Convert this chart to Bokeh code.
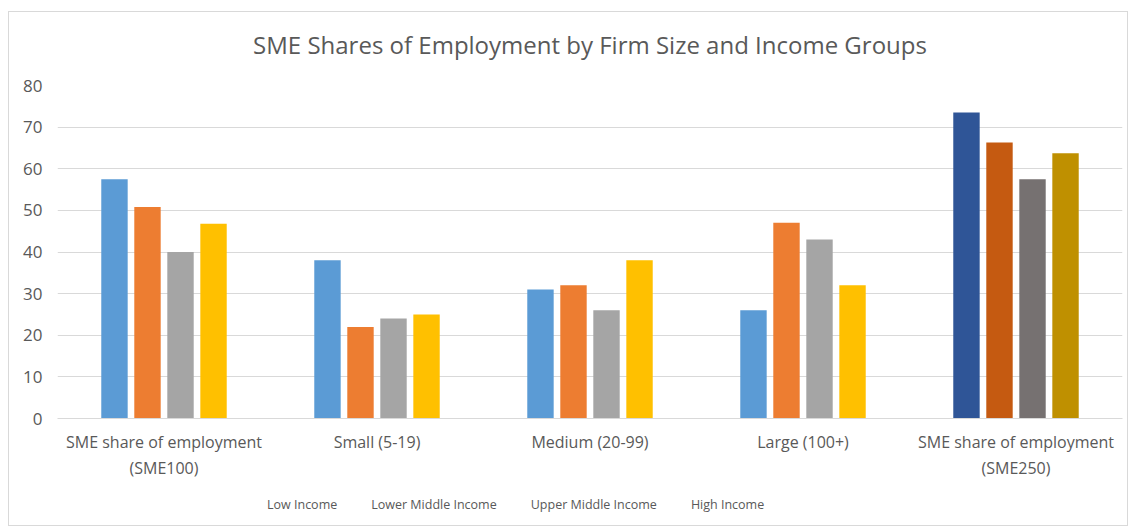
from bokeh.plotting import figure
from bokeh.layouts import column
from bokeh.models import (ColumnDataSource, FixedTicker, Legend, LegendItem, Range1d, Label,
                          CDSView, IndexFilter)
from bokeh.transform import dodge
from bokeh.embed import file_html
from bokeh.resources import INLINE

title_text = "SME Shares of Employment by Firm Size and Income Groups"
categories = ["SME share of employment\n(SME100)", "Small (5-19)", "Medium (20-99)",
              "Large (100+)", "SME share of employment\n(SME250)"]
series = ["Low Income", "Lower Middle Income", "Upper Middle Income", "High Income"]
low_income = [57.5, 38, 31, 26, 73.5]
lower_middle = [50.8, 22, 32, 47, 66.3]
upper_middle = [40, 24, 26, 43, 57.5]
high_income = [46.8, 25, 38, 32, 63.7]
y_ticks = [0, 10, 20, 30, 40, 50, 60, 70, 80]

colors = ["#5B9BD5", "#ED7D31", "#A5A5A5", "#FFC000"]
dark_colors = ["#2F5597", "#C55A11", "#767171", "#BF9000"]

FONT = "Open Sans"
TXT = "#595959"

xs = [i + 0.5 for i in range(len(categories))]
main = ColumnDataSource(dict(x=xs[:4], low=low_income[:4], lm=lower_middle[:4],
                             um=upper_middle[:4], hi=high_income[:4]))
last = ColumnDataSource(dict(x=xs[4:], low=low_income[4:], lm=lower_middle[4:],
                             um=upper_middle[4:], hi=high_income[4:]))

# title strip
head = figure(width=1118, height=50, output_backend="svg", toolbar_location=None,
              x_axis_type=None, y_axis_type=None, x_range=Range1d(0, 1), y_range=Range1d(0, 1),
              min_border=0)
head.outline_line_color = None
head.xgrid.grid_line_color = None
head.ygrid.grid_line_color = None
head.add_layout(Label(x=0.5, y=0.36, text=title_text, text_align="center",
                      text_baseline="middle", text_font=FONT, text_font_size="24px",
                      text_color=TXT))

p = figure(frame_width=1065, frame_height=333, output_backend="svg", toolbar_location=None,
           x_range=Range1d(0, 5), y_range=Range1d(0, 80),
           min_border_left=48, min_border_right=5, min_border_top=23, min_border_bottom=62)
p.title.text = ""
p.title.text_font_size = "1px"
p.title.standoff = 0

step = 0.155
bw = 0.124
cols = ["low", "lm", "um", "hi"]
for i, c in enumerate(cols):
    off = (i - 1.5) * step
    p.vbar(x=dodge("x", off), top=c, width=bw, source=main,
           fill_color=colors[i], line_color=None)
    p.vbar(x=dodge("x", off), top=c, width=bw, source=last,
           fill_color=dark_colors[i], line_color=None)

# x axis
p.xaxis.ticker = FixedTicker(ticks=xs)
p.xaxis.major_label_overrides = {x: c for x, c in zip(xs, categories)}
p.xaxis.major_tick_line_color = None
p.xaxis.minor_tick_line_color = None
p.xaxis.axis_line_color = "#D9D9D9"
p.xaxis.major_label_text_font = FONT
p.xaxis.major_label_text_font_size = "16px"
p.xaxis.major_label_text_color = TXT
p.xaxis.major_label_standoff = 6
p.xgrid.grid_line_color = None

# y axis
p.yaxis.ticker = FixedTicker(ticks=y_ticks)
p.yaxis.major_tick_line_color = None
p.yaxis.minor_tick_line_color = None
p.yaxis.axis_line_color = None
p.yaxis.major_label_text_font = FONT
p.yaxis.major_label_text_font_size = "17px"
p.yaxis.major_label_text_color = TXT
p.yaxis.major_label_standoff = 9
p.ygrid.grid_line_color = "#D9D9D9"
p.ygrid.grid_line_width = 1
p.outline_line_color = None

# legend strip below the chart (its renderers draw no bars, only legend swatches)
leg = figure(width=1118, height=44, output_backend="svg", toolbar_location=None,
             x_axis_type=None, y_axis_type=None, x_range=Range1d(-20, -19),
             y_range=Range1d(0, 1), min_border=0)
leg.outline_line_color = None
leg.xgrid.grid_line_color = None
leg.ygrid.grid_line_color = None
items = []
for i, c in enumerate(cols):
    r = leg.vbar(x="x", top=c, width=bw, source=main, fill_color=colors[i], line_color=None,
                 view=CDSView(filter=IndexFilter(indices=[])))
    items.append(LegendItem(label=series[i], renderers=[r]))
legend = Legend(items=items, orientation="horizontal", location=(198, 12),
                label_text_font=FONT, label_text_font_size="12.5px", label_text_color=TXT,
                glyph_width=9, glyph_height=9, spacing=22, label_standoff=3,
                border_line_color=None, background_fill_alpha=0, margin=0, padding=2)
leg.add_layout(legend, "center")

layout = column(head, p, leg, spacing=0, margin=(11, 0, 0, 8))
layout.styles = {"border": "1px solid #D9D9D9"}

open("out.html", "w").write(file_html(layout, INLINE))
